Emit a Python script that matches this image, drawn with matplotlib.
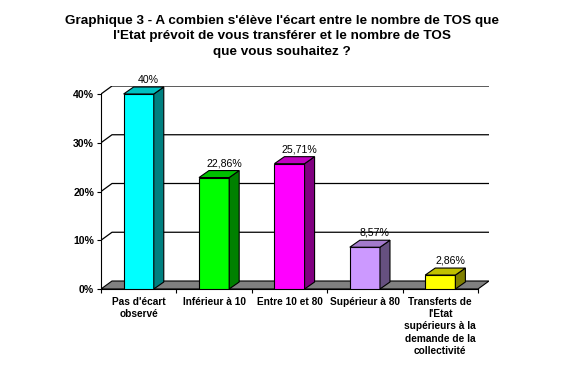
import matplotlib
matplotlib.use("Agg")
import matplotlib.pyplot as plt
from matplotlib.patches import Polygon
import numpy as np

categories = ["Pas d'écart\nobservé", "Inférieur à 10", "Entre 10 et 80", "Supérieur à 80",
              "Transferts de\nl'Etat\nsupérieurs à la\ndemande de la\ncollectivité"]
values = [40, 22.86, 25.71, 8.57, 2.86]
value_labels = ["40%", "22,86%", "25,71%", "8,57%", "2,86%"]
yticks = [0, 10, 20, 30, 40]
ytick_labels = ["0%", "10%", "20%", "30%", "40%"]
title = ("Graphique 3 - A combien s'élève l'écart entre le nombre de TOS que\n"
         "l'Etat prévoit de vous transférer et le nombre de TOS\n"
         "que vous souhaitez ?")

front_colors = ["#00FFFF", "#00FF00", "#FF00FF", "#CC99FF", "#FFFF00"]
side_colors = ["#008080", "#008000", "#800080", "#665080", "#808000"]
top_colors = ["#00C0C0", "#00C000", "#C000C0", "#A37ACC", "#C0C000"]

plt.rcParams['font.family'] = ['Liberation Sans', 'DejaVu Sans']

W, H = 565, 377
fig = plt.figure(figsize=(W / 100, H / 100), dpi=100)
fig.patch.set_facecolor("white")

n = len(values)
ymax = 40
# pixel geometry
x0_px, x1_px = 101, 478
y0_px, y40_px = 289, 94
cat_px = (x1_px - x0_px) / n
pct_px = (y0_px - y40_px) / ymax
dxf = 11 / cat_px
dyf = 8 / pct_px
dxb = 10 / cat_px
dyb = 7 / pct_px

left = x0_px / W
bottom = 1 - y0_px / H
width = (x1_px - x0_px + 11) / W
height = (y0_px - y40_px + 8) / H
ax = fig.add_axes([left, bottom, width, height])
ax.set_xlim(0, n + dxf)
ax.set_ylim(0, ymax + dyf)
ax.patch.set_alpha(0)

# floor
ax.add_patch(Polygon([(0, 0), (n, 0), (n + dxf, dyf), (dxf, dyf)], closed=True,
                     facecolor="#808080", edgecolor="black", lw=0.8, zorder=1))
# gridlines (side wall diagonal + back wall)
for v in yticks[1:]:
    ax.plot([0, dxf, n + dxf], [v, v + dyf, v + dyf], color="black", lw=0.9, zorder=0.5)

bw = 0.4
for i, v in enumerate(values):
    xl = i + 0.5 - bw / 2
    xr = xl + bw
    ax.add_patch(Polygon([(xl, 0), (xr, 0), (xr, v), (xl, v)], closed=True,
                         facecolor=front_colors[i], edgecolor="black", lw=0.8, zorder=3))
    ax.add_patch(Polygon([(xr, 0), (xr + dxb, dyb), (xr + dxb, v + dyb), (xr, v)], closed=True,
                         facecolor=side_colors[i], edgecolor="black", lw=0.8, zorder=3))
    ax.add_patch(Polygon([(xl, v), (xr, v), (xr + dxb, v + dyb), (xl + dxb, v + dyb)], closed=True,
                         facecolor=top_colors[i], edgecolor="black", lw=0.8, zorder=3))
    ax.text(i + 0.5 + dxb, v + dyb + 0.5, value_labels[i], ha="center", va="bottom",
            fontsize=7.6, zorder=4)

for s in ["top", "right"]:
    ax.spines[s].set_visible(False)
ax.spines["left"].set_bounds(0, ymax)
ax.spines["bottom"].set_bounds(0, n)
ax.spines["left"].set_zorder(2)
ax.spines["bottom"].set_zorder(2)

ax.set_yticks(yticks)
ax.set_yticklabels(ytick_labels, fontsize=7.6, fontweight="bold")
ax.tick_params(axis="y", length=3, width=0.8, pad=2)

ax.set_xticks(np.arange(n) + 0.5)
ax.set_xticklabels(categories, fontsize=7.3, fontweight="bold", linespacing=1.3)
ax.tick_params(axis="x", which="major", length=0, pad=5.5)
ax.set_xticks(np.arange(n + 1), minor=True)
ax.tick_params(axis="x", which="minor", length=3, width=0.8)

fig.text(282 / W, 1 - 15 / H, title, ha="center", va="top", fontsize=9.7,
         fontweight="bold", linespacing=1.38)

fig.savefig("out.png", dpi=100)
